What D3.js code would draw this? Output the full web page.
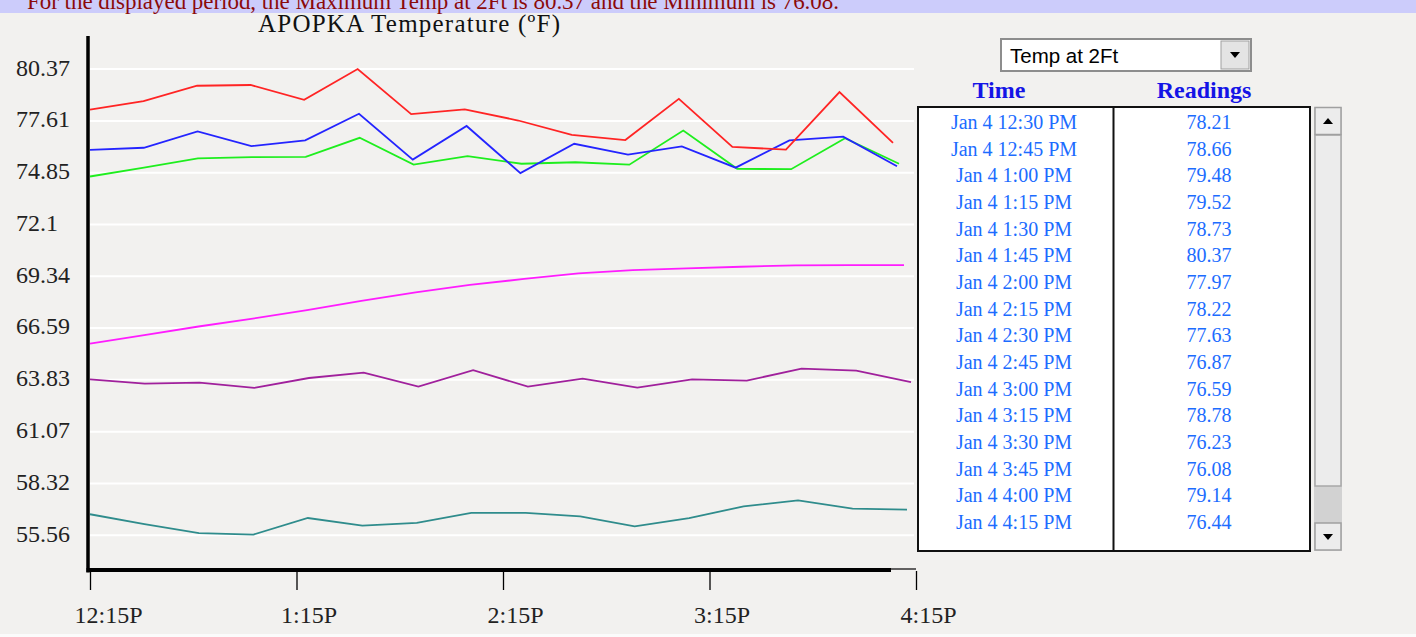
<!DOCTYPE html>
<html><head><meta charset="utf-8">
<script src="https://cdn.jsdelivr.net/npm/d3@7"></script>
<style>
html,body{margin:0;padding:0;background:#f2f1ef;overflow:hidden;}
svg{display:block;}
</style></head>
<body>
<svg id="c" width="1416" height="637"></svg>
<script>
// ---------- data ----------
const tableTimes = ["Jan 4 12:30 PM","Jan 4 12:45 PM","Jan 4 1:00 PM","Jan 4 1:15 PM","Jan 4 1:30 PM","Jan 4 1:45 PM","Jan 4 2:00 PM","Jan 4 2:15 PM","Jan 4 2:30 PM","Jan 4 2:45 PM","Jan 4 3:00 PM","Jan 4 3:15 PM","Jan 4 3:30 PM","Jan 4 3:45 PM","Jan 4 4:00 PM","Jan 4 4:15 PM"];
const temp2Ft = [78.21,78.66,79.48,79.52,78.73,80.37,77.97,78.22,77.63,76.87,76.59,78.78,76.23,76.08,79.14,76.44];
const blueSeries = [76.07,76.18,77.05,76.27,76.57,77.99,75.55,77.34,74.83,76.39,75.81,76.25,75.12,76.57,76.77,75.20];
const greenSeries = [74.65,75.12,75.61,75.68,75.70,76.71,75.28,75.73,75.33,75.41,75.28,77.10,75.06,75.04,76.69,75.33];
const magentaSeries = [65.76,66.21,66.67,67.09,67.54,68.03,68.49,68.88,69.20,69.50,69.67,69.76,69.85,69.92,69.94,69.94];
const purpleSeries = [63.86,63.63,63.68,63.40,63.93,64.21,63.47,64.35,63.47,63.90,63.42,63.86,63.79,64.43,64.32,63.71];
const tealSeries = [56.68,56.15,55.68,55.60,56.48,56.08,56.22,56.75,56.75,56.57,56.04,56.47,57.10,57.42,56.98,56.93];
const yTickValues = [80.37,77.61,74.85,72.1,69.34,66.59,63.83,61.07,58.32,55.56];
const xTickMinutes = [0,60,120,180,240];
const xTickLabels = ["12:15P","1:15P","2:15P","3:15P","4:15P"];
const chartTitle = "APOPKA Temperature (\u00BAF)";
const bannerText = "For the displayed period, the Maximum Temp at 2Ft is 80.37 and the Minimum is 76.08.";
const dropdownLabel = "Temp at 2Ft";

// ---------- layout ----------
const svg = d3.select("#c");
const serif = "'Liberation Serif','Times New Roman',serif";
const L = 90, R = 916, T = 36, B = 570;
const y = d3.scaleLinear().domain([53.714, 82.126]).range([B, T]);
const xTime = d3.scaleLinear().domain([0, 240]).range([L, R]);

// banner
svg.append("rect").attr("x",0).attr("y",0).attr("width",1416).attr("height",13).attr("fill","#ccccfb");
svg.append("text").attr("x",27).attr("y",9).attr("font-family",serif).attr("font-size",23)
  .attr("fill","#8b0a0a").attr("textLength",812).attr("lengthAdjust","spacing").text(bannerText);
svg.append("rect").attr("x",0).attr("y",634).attr("width",1416).attr("height",3).attr("fill","#fbfbfb");

// title
svg.append("text").attr("x",409).attr("y",31.5).attr("text-anchor","middle").attr("font-family",serif)
  .attr("font-size",25).attr("fill","#111").attr("textLength",302).attr("lengthAdjust","spacing").text(chartTitle);

// gridlines
svg.append("g").selectAll("line").data(yTickValues).join("line")
  .attr("x1",L).attr("x2",914).attr("y1",d=>y(d)).attr("y2",d=>y(d))
  .attr("stroke","#ffffff").attr("stroke-width",2);

// y tick labels
svg.append("g").selectAll("text").data(yTickValues).join("text")
  .attr("x",16).attr("y",d=>y(d)+6.5).attr("font-family",serif).attr("font-size",24).attr("fill","#222")
  .text(d=>String(d));

// series
const series = [
  {values: tealSeries, color:"#2f8c8c", end:907},
  {values: purpleSeries, color:"#a0209c", end:911},
  {values: magentaSeries, color:"#ff1cff", end:904},
  {values: greenSeries, color:"#1eee1e", end:899},
  {values: blueSeries, color:"#2424ff", end:897},
  {values: temp2Ft, color:"#ff2424", end:893}
];
series.forEach(s=>{
  const xs = d3.scaleLinear().domain([0, s.values.length-1]).range([L, s.end]);
  const line = d3.line().x((d,i)=>xs(i)).y(d=>y(d));
  svg.append("path").datum(s.values).attr("d",line).attr("fill","none")
    .attr("stroke",s.color).attr("stroke-width",1.8).attr("stroke-linejoin","miter");
});

// axes
svg.append("line").attr("x1",88).attr("x2",88).attr("y1",T).attr("y2",B+2.5).attr("stroke","#000").attr("stroke-width",3.5);
svg.append("line").attr("x1",86.5).attr("x2",891).attr("y1",B).attr("y2",B).attr("stroke","#000").attr("stroke-width",4);
svg.append("line").attr("x1",891).attr("x2",R).attr("y1",B-1).attr("y2",B-1).attr("stroke","#000").attr("stroke-width",1.2);
const xAxis = d3.axisBottom(xTime).tickValues(xTickMinutes).tickSize(19).tickFormat("");
const gx = svg.append("g").attr("transform",`translate(0,${B+1})`).call(xAxis);
gx.select(".domain").remove();
gx.selectAll(".tick line").attr("stroke","#000").attr("stroke-width",1.3);
svg.append("g").selectAll("text").data(xTickMinutes).join("text")
  .attr("x",d=>xTime(d)-15.5).attr("y",623).attr("font-family",serif).attr("font-size",24).attr("fill","#222")
  .text((d,i)=>xTickLabels[i]);

// dropdown
const dd = svg.append("g");
dd.append("rect").attr("x",1001).attr("y",39).attr("width",250).attr("height",32).attr("fill","#fff").attr("stroke","#8d8d8d").attr("stroke-width",2);
dd.append("rect").attr("x",1221).attr("y",41).attr("width",28).attr("height",28).attr("fill","#e4e4e4").attr("stroke","#a0a0a0").attr("stroke-width",1);
dd.append("path").attr("d","M1230,52 L1240,52 L1235,58 Z").attr("fill","#000");
dd.append("text").attr("x",1010).attr("y",62.5).attr("font-family","'Liberation Sans',Arial,sans-serif").attr("font-size",20.5).attr("fill","#000").text(dropdownLabel);

// table headers
const hdr = svg.append("g").attr("font-family",serif).attr("font-weight","bold").attr("font-size",24).attr("fill","#1414e6").attr("text-anchor","middle");
hdr.append("text").attr("x",999).attr("y",97.5).text("Time");
hdr.append("text").attr("x",1204).attr("y",97.5).text("Readings");

// table
svg.append("rect").attr("x",918).attr("y",107).attr("width",392).attr("height",444).attr("fill","#fff").attr("stroke","#111").attr("stroke-width",2);
svg.append("line").attr("x1",1113.5).attr("x2",1113.5).attr("y1",107).attr("y2",551).attr("stroke","#111").attr("stroke-width",2);
const rowY = d3.scaleLinear().domain([0,15]).range([129,529]);
const rows = svg.append("g").attr("font-family",serif).attr("font-size",20).attr("fill","#1c6cff").attr("text-anchor","middle");
rows.selectAll("text.t").data(tableTimes).join("text").attr("class","t").attr("x",1014).attr("y",(d,i)=>rowY(i)).text(d=>d);
rows.selectAll("text.v").data(temp2Ft).join("text").attr("class","v").attr("x",1209).attr("y",(d,i)=>rowY(i)).text(d=>d.toFixed(2));

// scrollbar
const sb = svg.append("g");
sb.append("rect").attr("x",1314).attr("y",107).attr("width",28).attr("height",444).attr("fill","#d2d2d2");
sb.append("rect").attr("x",1315).attr("y",135).attr("width",26).attr("height",351).attr("fill","#ececec").attr("stroke","#a8a8a8").attr("stroke-width",1.5);
sb.append("rect").attr("x",1315).attr("y",107.5).attr("width",26).attr("height",27).attr("fill","#ececec").attr("stroke","#a0a0a0").attr("stroke-width",1.5);
sb.append("rect").attr("x",1315).attr("y",523).attr("width",26).attr("height",27).attr("fill","#ececec").attr("stroke","#a0a0a0").attr("stroke-width",1.5);
sb.append("path").attr("d","M1323,124 L1333,124 L1328,118 Z").attr("fill","#000");
sb.append("path").attr("d","M1323,534 L1333,534 L1328,540 Z").attr("fill","#000");
</script>
</body></html>
